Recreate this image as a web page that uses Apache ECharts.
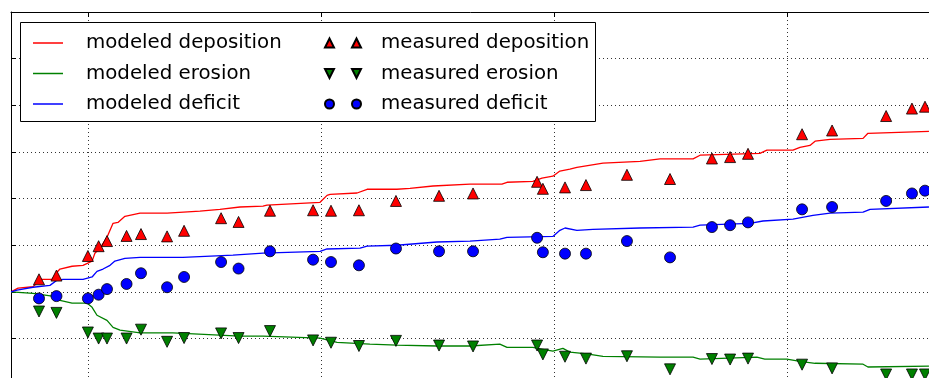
<!DOCTYPE html>
<html><head><meta charset="utf-8">
<script src="https://cdn.jsdelivr.net/npm/echarts@6/dist/echarts.min.js"></script>
<style>html,body{margin:0;padding:0;background:#fff}#c{width:929px;height:378px}</style>
</head><body><div id="c"></div>
<script>
// measured stations (x positions)
const stationX = [7.87, 8.62, 9.97, 10.43, 10.79, 11.63, 12.25, 13.37, 14.10, 15.69, 16.44, 17.79, 19.64, 20.41, 21.61, 23.20,
  25.05, 26.51, 29.26, 29.51, 30.46, 31.36, 33.12, 34.97, 36.77, 37.55, 38.32, 40.64, 41.93, 44.25, 45.36, 45.92];
const measuredDeposition = [0.27, 0.35, 0.77, 0.98, 1.09, 1.20, 1.24, 1.19, 1.31, 1.58, 1.50, 1.74, 1.75, 1.74, 1.75, 1.95,
  2.06, 2.11, 2.36, 2.21, 2.24, 2.29, 2.51, 2.42, 2.86, 2.89, 2.96, 3.38, 3.46, 3.77, 3.93, 3.97];
const measuredErosion = [-0.42, -0.45, -0.87, -1.00, -1.00, -1.00, -0.81, -1.07, -0.99, -0.89, -0.99, -0.84, -1.04, -1.09, -1.16, -1.05,
  -1.15, -1.17, -1.15, -1.34, -1.39, -1.43, -1.38, -1.66, -1.44, -1.45, -1.43, -1.56, -1.64, -1.77, -1.77, -1.77];
const measuredDeficit = [-0.14, -0.09, -0.14, -0.06, 0.06, 0.17, 0.40, 0.10, 0.32, 0.64, 0.50, 0.87, 0.69, 0.64, 0.57, 0.93,
  0.87, 0.87, 1.16, 0.85, 0.82, 0.82, 1.09, 0.74, 1.39, 1.43, 1.49, 1.77, 1.82, 1.95, 2.11, 2.17];

// modeled profiles
const modelDepX = [6.67, 6.97, 7.61, 7.78, 7.87, 8.43, 8.60, 8.77, 9.29, 9.76, 10.15, 10.27, 10.49, 10.79, 11.05, 11.26, 11.56, 12.21,
  13.37, 14.78, 15.64, 16.50, 17.49, 17.66, 19.94, 20.24, 20.37, 21.53, 21.96, 23.24, 23.80, 24.79, 26.38, 27.75, 27.97, 29.08,
  29.47, 29.94, 30.24, 30.67, 30.97, 32.09, 33.68, 34.54, 35.96, 36.26, 38.83, 39.13, 40.25, 40.55, 40.98, 41.20, 41.84, 43.26, 43.47, 46.09];
const modelDepY = [0.00, 0.08, 0.11, 0.19, 0.27, 0.27, 0.40, 0.49, 0.55, 0.57, 0.66, 0.83, 0.94, 1.17, 1.47, 1.49, 1.62, 1.69,
  1.69, 1.73, 1.77, 1.82, 1.84, 1.86, 1.92, 2.07, 2.09, 2.12, 2.20, 2.20, 2.22, 2.27, 2.31, 2.31, 2.35, 2.37,
  2.44, 2.48, 2.59, 2.63, 2.67, 2.76, 2.80, 2.85, 2.85, 2.93, 2.97, 3.04, 3.04, 3.10, 3.14, 3.23, 3.27, 3.29, 3.40, 3.44];
const modelEroX = [6.67, 7.61, 8.43, 8.77, 9.29, 9.93, 10.15, 10.36, 10.79, 11.05, 11.35, 12.21, 13.62, 16.50, 17.49, 19.94, 20.67,
  22.08, 23.24, 24.96, 26.38, 27.66, 27.97, 29.08, 29.51, 29.94, 30.37, 30.67, 31.40, 32.09, 34.54, 35.96, 36.26, 38.70, 39.04,
  39.99, 40.55, 41.20, 43.26, 43.47, 46.09];
const modelEroY = [0.00, -0.03, -0.09, -0.18, -0.24, -0.24, -0.33, -0.50, -0.61, -0.76, -0.82, -0.88, -0.88, -0.95, -0.95, -0.99, -1.08,
  -1.12, -1.14, -1.16, -1.16, -1.12, -1.19, -1.19, -1.23, -1.27, -1.21, -1.29, -1.33, -1.38, -1.40, -1.40, -1.44, -1.40, -1.44,
  -1.44, -1.49, -1.53, -1.55, -1.61, -1.59];
const modelDefX = [6.67, 6.93, 7.61, 8.34, 8.64, 8.90, 9.76, 10.15, 10.36, 10.62, 10.92, 11.13, 11.56, 12.21, 14.05, 16.20, 17.49,
  19.94, 20.24, 21.66, 21.96, 23.24, 24.96, 26.38, 27.66, 27.97, 29.94, 30.24, 30.46, 30.97, 31.66, 33.68, 35.96, 36.26, 38.40,
  38.96, 40.25, 41.11, 41.84, 43.26, 43.56, 46.09];
const modelDefY = [0.00, 0.04, 0.10, 0.14, 0.25, 0.27, 0.27, 0.32, 0.44, 0.49, 0.57, 0.66, 0.72, 0.74, 0.74, 0.79, 0.83,
  0.87, 0.92, 0.94, 0.98, 1.00, 1.07, 1.09, 1.13, 1.17, 1.19, 1.32, 1.37, 1.32, 1.34, 1.37, 1.39, 1.43, 1.47,
  1.52, 1.56, 1.64, 1.69, 1.71, 1.77, 1.82];

const seriesNames = ['modeled deposition', 'modeled erosion', 'modeled deficit',
  'measured deposition', 'measured erosion', 'measured deficit'];

const X_MIN = 0, X_MAX = 50, X_STEP = 10;
const Y_MIN = -2, Y_MAX = 6, Y_STEP = 1;

const zip = (xs, ys) => xs.map((x, i) => [x, ys[i]]);
const FONT = 'DejaVu Sans';
const dotted = { color: '#333', width: 1, type: [1, 3] };

const chart = echarts.init(document.getElementById('c'), null, { renderer: 'canvas' });

function lineSeries(name, xs, ys, color) {
  return { name, type: 'line', xAxisIndex: 0, yAxisIndex: 0, data: zip(xs, ys), showSymbol: false, symbol: 'none',
    lineStyle: { color, width: 1.3 }, itemStyle: { color }, silent: true, z: 2 };
}
function scatterSeries(name, ys, color, symbol, size) {
  return { name, type: 'scatter', xAxisIndex: 0, yAxisIndex: 0, data: zip(stationX, ys), symbol, symbolSize: size,
    itemStyle: { color, borderColor: '#000', borderWidth: 0.8, opacity: 1 }, silent: true, z: 3 };
}

const upPair = 'path://M0,9L4.5,0L9,9Z M27,9L31.5,0L36,9Z';
const downPair = 'path://M0,0L9,0L4.5,9Z M27,0L36,0L31.5,9Z';
const circPair = 'path://M0,4.5A4.5,4.5 0 1 1 9,4.5A4.5,4.5 0 1 1 0,4.5Z M27,4.5A4.5,4.5 0 1 1 36,4.5A4.5,4.5 0 1 1 27,4.5Z';

chart.setOption({
  animation: false,
  backgroundColor: '#fff',
  grid: [
    { left: -144.25, top: 12, width: 1164.25, height: 373.2, containLabel: false, outerBoundsMode: 'none' },
    { left: 11, top: 12, width: 1009, height: 373.2, containLabel: false, outerBoundsMode: 'none' }
  ],
  xAxis: [
    { type: 'value', gridIndex: 0, position: 'top', min: X_MIN, max: X_MAX, interval: X_STEP,
      axisLine: { show: false, onZero: false }, axisLabel: { show: false },
      axisTick: { show: true, inside: true, length: 5, lineStyle: { color: '#000', width: 1 } },
      splitLine: { show: true, lineStyle: dotted } },
    { type: 'value', gridIndex: 1, position: 'top', min: 0, max: 1,
      axisLine: { show: true, onZero: false, lineStyle: { color: '#000', width: 1 } }, axisLabel: { show: false },
      axisTick: { show: false }, splitLine: { show: false } }
  ],
  yAxis: [
    { type: 'value', gridIndex: 0, min: Y_MIN, max: Y_MAX, interval: Y_STEP, show: false },
    { type: 'value', gridIndex: 1, position: 'left', min: Y_MIN, max: Y_MAX, interval: Y_STEP,
      axisLine: { show: true, onZero: false, lineStyle: { color: '#000', width: 1 } }, axisLabel: { show: false },
      axisTick: { show: true, inside: true, length: 5, lineStyle: { color: '#000', width: 1 } },
      splitLine: { show: true, lineStyle: dotted } }
  ],
  graphic: [
    { type: 'rect', z: 50, shape: { x: 20.5, y: 22.5, width: 575, height: 99 },
      style: { fill: '#fff', stroke: '#000', lineWidth: 1 }, silent: true }
  ],
  legend: [
    { left: 33, top: 33, padding: 0, orient: 'vertical', z: 60, itemGap: 10.5, itemWidth: 30, itemHeight: 1.5,
      selectedMode: false, symbolRotate: 0,
      textStyle: { fontFamily: FONT, fontSize: 19.8, color: '#000', padding: [0, 0, 0, 18] },
      data: seriesNames.slice(0, 3).map(n => ({ name: n, icon: 'rect' })) },
    { left: 324, top: 33, padding: 0, orient: 'vertical', z: 60, itemGap: 10.5, itemWidth: 36, itemHeight: 9,
      selectedMode: false, symbolRotate: 0,
      textStyle: { fontFamily: FONT, fontSize: 19.8, color: '#000', padding: [0, 0, 0, 15] },
      data: [
        { name: seriesNames[3], icon: upPair },
        { name: seriesNames[4], icon: downPair },
        { name: seriesNames[5], icon: circPair }
      ] }
  ],
  series: [
    lineSeries(seriesNames[0], modelDepX, modelDepY, '#ff0000'),
    lineSeries(seriesNames[1], modelEroX, modelEroY, '#008000'),
    lineSeries(seriesNames[2], modelDefX, modelDefY, '#0000ff'),
    scatterSeries(seriesNames[3], measuredDeposition, '#ff0000', 'triangle', 11),
    scatterSeries(seriesNames[4], measuredErosion, '#008000', 'path://M0,0L2,0L1,2Z', 11),
    scatterSeries(seriesNames[5], measuredDeficit, '#0000ff', 'circle', 11)
  ]
});
</script></body></html>
